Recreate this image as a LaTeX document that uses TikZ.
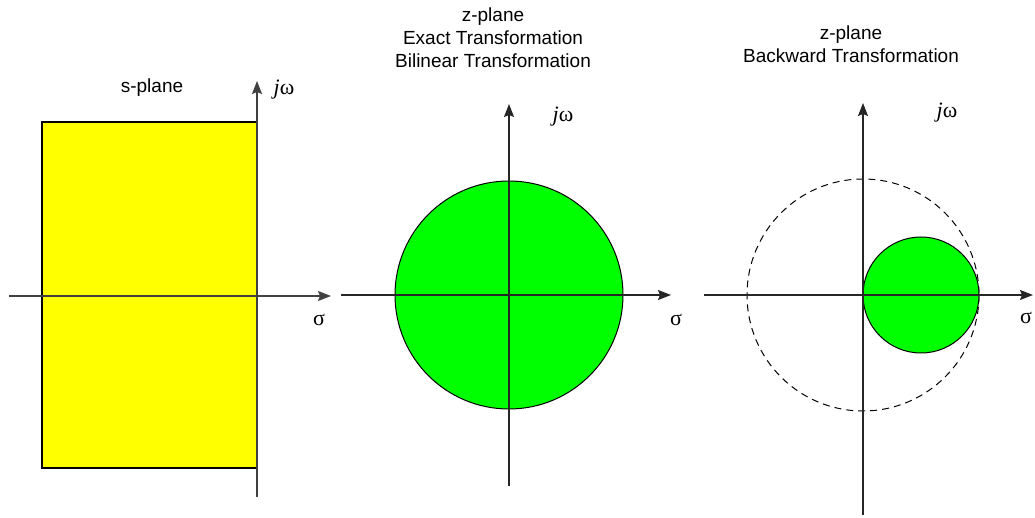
\documentclass[tikz,border=0pt]{standalone}
\usepackage{fontspec}
\setmainfont{Liberation Sans}
\newfontfamily\symbfont{Liberation Serif}
\usetikzlibrary{positioning,arrows.meta,calc}
\definecolor{planeyellow}{HTML}{FFFF00}
\definecolor{planegreen}{HTML}{00FF00}

\begin{document}
\begin{tikzpicture}[
    x=0.5pt, y=-0.5pt,
    axis/.style={-{Stealth[length=6.5pt, width=5pt, inset=1pt]}, line width=0.6pt, black!85},
    title/.style={align=center, font=\fontsize{9.5}{11.5}\selectfont, inner sep=0pt},
    sym/.style={font=\symbfont\fontsize{11}{13}\selectfont, inner sep=0pt},
    region/.style={draw=black, line width=0.5pt}
  ]
    \useasboundingbox (0,0) rectangle (1035,518);

    % s-plane
    \filldraw[region, fill=planeyellow, line width=0.8pt] (42,122) rectangle (257,468);
    \coordinate (sw) at (9,296);
    \coordinate (se) at (331,296);
    \coordinate (ss) at (257,497);
    \coordinate (sn) at (257,81);
    \draw[axis, black!75, line width=0.8pt] (sw) -- (se);
    \draw[axis, black!75, line width=0.8pt] (ss) -- (sn);
    \node[title] (stitle) at (152,88) {s-plane};
    \node[sym] (sjw) at (284,90) {\textit{j}ω};
    \node[sym] (ssig) at (319,320) {σ};

    % z-plane, exact / bilinear
    \filldraw[region, fill=planegreen] (509,295) circle (114);
    \coordinate (bw) at (341,295);
    \coordinate (be) at (671,295);
    \coordinate (bs) at (509,486);
    \coordinate (bn) at (509,104);
    \draw[axis] (bw) -- (be);
    \draw[axis] (bs) -- (bn);
    \node[title] (btitle) at (493,38) {z-plane\\Exact Transformation\\Bilinear Transformation};
    \node[sym] (bjw) at (563,117) {\textit{j}ω};
    \node[sym] (bsig) at (676,320) {σ};

    % z-plane, backward
    \draw[region, dashed, dash pattern=on 3.5pt off 2.5pt] (863,295) circle (116);
    \filldraw[region, fill=planegreen] (921,295) circle (58);
    \coordinate (kw) at (704,295);
    \coordinate (ke) at (1033,295);
    \coordinate (ks) at (863,515);
    \coordinate (kn) at (863,103);
    \draw[axis] (kw) -- (ke);
    \draw[axis] (ks) -- (kn);
    \node[title] (ktitle) at (851,44.5) {z-plane\\Backward Transformation};
    \node[sym] (kjw) at (947,113) {\textit{j}ω};
    \node[sym] (ksig) at (1026,318) {σ};
  \end{tikzpicture}
\end{document}
